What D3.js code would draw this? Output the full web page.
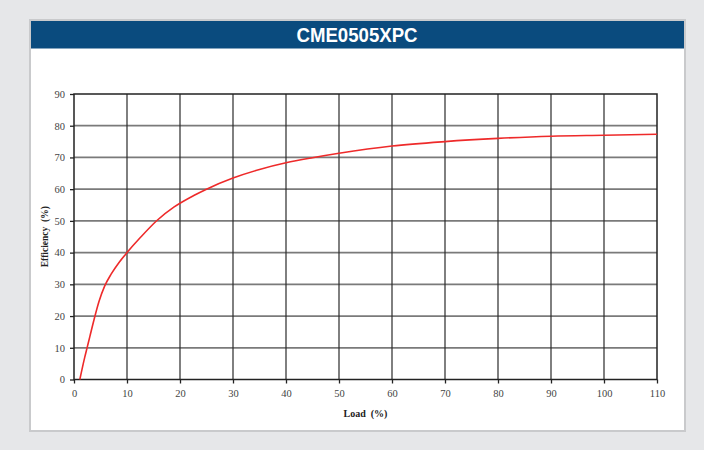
<!DOCTYPE html>
<html>
<head>
<meta charset="utf-8">
<style>
  body { margin: 0; background: #e6e7e9; }
  svg { display: block; }
</style>
</head>
<body>
<svg id="chart" width="704" height="450"></svg>

<script src="https://d3js.org/d3.v7.min.js"></script>
<script>
    var title = "CME0505XPC"
    var xTicks = [0, 10, 20, 30, 40, 50, 60, 70, 80, 90, 100, 110]
    var yTicks = [0, 10, 20, 30, 40, 50, 60, 70, 80, 90]
    // efficiency curve
    var load = [1.1, 2, 2.5, 3, 3.8, 4.7, 5.8, 7, 8.5, 10, 12.6, 15.7, 18.9, 22.6, 25, 30, 35, 40, 45, 50, 60, 70, 80, 90, 100, 110]
    var efficiency = [0, 6.8, 10.2, 13.6, 19, 24.5, 29.5, 33.2, 36.9, 40, 44.9, 50.2, 54.4, 58.0, 60.0, 63.5, 66.2, 68.3, 69.9, 71.3, 73.6, 75.0, 76.0, 76.7, 77.0, 77.3]

    var svg = d3.select("#chart")

    // panel + title bar
    svg.append("rect")
        .attr("x", 30).attr("y", 20)
        .attr("width", 655).attr("height", 411)
        .attr("fill", "#fff")
        .attr("stroke", "#c9cacc")
        .attr("stroke-width", 2)
    svg.append("rect")
        .attr("x", 31).attr("y", 21)
        .attr("width", 653).attr("height", 27.5)
        .attr("fill", "#0a4b7e")
    svg.append("text")
        .attr("x", 357).attr("y", 41.5)
        .attr("text-anchor", "middle")
        .attr("fill", "#fff")
        .attr("font-family", "'Liberation Sans Narrow', 'Arial Narrow', 'Liberation Sans', sans-serif")
        .attr("font-weight", "bold")
        .attr("font-size", 21)
        .attr("textLength", 121)
        .attr("lengthAdjust", "spacingAndGlyphs")
        .text(title)

    var pLeft = 74, pRight = 657, pTop = 94, pBottom = 379.5

    var x = d3.scaleLinear().domain([0, 110]).range([pLeft, pRight])
    var y = d3.scaleLinear().domain([0, 90]).range([pBottom, pTop])

    var serif = "'Liberation Serif', 'Times New Roman', serif"

    // horizontal grid (grey, heavier)
    svg.append("g")
        .selectAll("line")
        .data(yTicks.slice(1, -1))
        .enter().append("line")
        .attr("x1", pLeft).attr("x2", pRight)
        .attr("y1", function(d) { return y(d) })
        .attr("y2", function(d) { return y(d) })
        .attr("stroke", "#7a7a7a")
        .attr("stroke-width", 1.8)

    // vertical grid (dark, thinner)
    svg.append("g")
        .selectAll("line")
        .data(xTicks.slice(1, -1))
        .enter().append("line")
        .attr("y1", pTop).attr("y2", pBottom)
        .attr("x1", function(d) { return x(d) })
        .attr("x2", function(d) { return x(d) })
        .attr("stroke", "#2a2a2a")
        .attr("stroke-width", 1.2)

    // frame
    svg.append("rect")
        .attr("x", pLeft).attr("y", pTop)
        .attr("width", pRight - pLeft).attr("height", pBottom - pTop)
        .attr("fill", "none")
        .attr("stroke", "#222")
        .attr("stroke-width", 1.5)

    var xAxis = svg.append("g")
        .attr("transform", "translate(0," + pBottom + ")")
        .call(d3.axisBottom(x).tickValues(xTicks).tickSize(4).tickPadding(6))
    var yAxis = svg.append("g")
        .attr("transform", "translate(" + pLeft + ",0)")
        .call(d3.axisLeft(y).tickValues(yTicks).tickSize(4).tickPadding(5))

    ;[xAxis, yAxis].forEach(function(a) {
        a.select(".domain").remove()
        a.selectAll(".tick line").attr("stroke", "#222").attr("stroke-width", 1.3)
        a.selectAll(".tick text")
            .attr("fill", "#444")
            .attr("font-family", serif)
            .attr("font-size", 10.5)
    })

    // curve
    var points = load.map(function(d, i) { return [d, efficiency[i]] })
    var line = d3.line()
        .x(function(d) { return x(d[0]) })
        .y(function(d) { return y(d[1]) })
        .curve(d3.curveMonotoneX)

    svg.append("path")
        .datum(points)
        .attr("d", line)
        .attr("fill", "none")
        .attr("stroke", "#ee2a2a")
        .attr("stroke-width", 1.6)

    // axis titles
    svg.append("text")
        .attr("x", (pLeft + pRight) / 2).attr("y", 416.5)
        .attr("text-anchor", "middle")
        .attr("font-family", serif)
        .attr("font-weight", "bold")
        .attr("font-size", 10)
        .attr("fill", "#222")
        .attr("xml:space", "preserve")
        .text("Load  (%)")

    svg.append("text")
        .attr("transform", "translate(47.5," + ((pTop + pBottom) / 2) + ") rotate(-90)")
        .attr("text-anchor", "middle")
        .attr("font-family", serif)
        .attr("font-weight", "bold")
        .attr("font-size", 9.5)
        .attr("fill", "#222")
        .attr("xml:space", "preserve")
        .text("Efficiency  (%)")
</script>
</body>
</html>
